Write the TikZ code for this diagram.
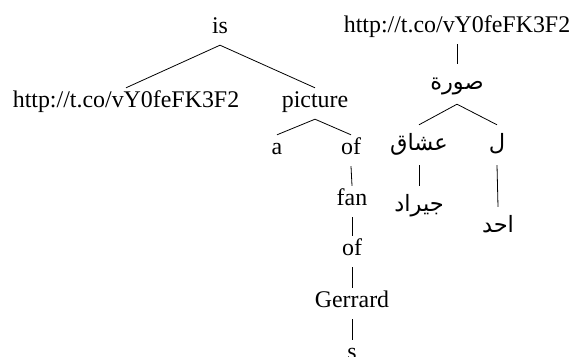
\documentclass[tikz,border=0pt]{standalone}
\usepackage{fontspec}
\setmainfont{Liberation Serif}
\newfontfamily\arabicfont[Script=Arabic]{DejaVu Sans}
\TeXXeTstate=1
\begin{document}
\begin{tikzpicture}[x=1pt,y=-1pt,
  word/.style={font=\fontsize{23.9}{28}\selectfont, inner sep=0pt, anchor=base,
    text height=19pt, text depth=12pt},
  arword/.style={font=\arabicfont\fontsize{22.5}{26}\selectfont, inner sep=0pt, anchor=base,
    text height=25pt, text depth=15pt},
  edge/.style={line width=0.8pt}]
\useasboundingbox (0,0) rectangle (572,356);

% English dependency tree
\node[word] (is)   at (220,33)  {is};
\node[word] (url1) at (126,107) {http://t.co/vY0feFK3F2};
\node[word] (pic)  at (315,107) {picture};
\node[word] (a)    at (277,154) {a};
\node[word] (of1)  at (351,154) {of};
\node[word] (fan)  at (352,205) {fan};
\node[word] (of2)  at (352,255) {of};
\node[word] (ger)  at (352,307) {Gerrard};
\node[word] (s)    at (352,359) {s};

\draw[edge] (is.south) -- (url1.north);
\draw[edge] (is.south) -- (pic.north);
\draw[edge] (pic.south) -- (a.north);
\draw[edge] (pic.south) -- (of1.north);
\draw[edge] (of1.south) -- (fan.north);
\draw[edge] (fan.south) -- (of2.north);
\draw[edge] (of2.south) -- (ger.north);
\draw[edge] (ger.south) -- (s.north);

% Arabic dependency tree
\node[word]   (url2) at (457,32)  {http://t.co/vY0feFK3F2};
\node[arword] (sura) at (457,89)  {\beginR صورة\endR};
\node[arword] (ush)  at (419,150) {\beginR عشاق\endR};
\node[arword] (lam)  at (497,150) {\beginR ل\endR};
\node[arword] (jir)  at (419,211) {\beginR جيراد\endR};
\node[arword] (ahad) at (498,232) {\beginR احد\endR};

\draw[edge] (url2.south) -- (sura.north);
\draw[edge] (sura.south) -- (ush.north);
\draw[edge] (sura.south) -- (lam.north);
\draw[edge] (ush.south) -- (jir.north);
\draw[edge] (lam.south) -- (ahad.north);
\end{tikzpicture}
\end{document}
